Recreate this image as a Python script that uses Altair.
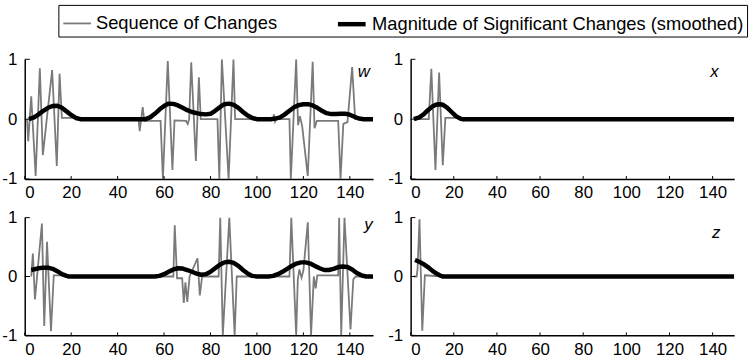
import altair as alt
import pandas as pd

SEQ = "Sequence of Changes"
MAG = "Magnitude of Significant Changes (smoothed)"

x_ticks = [0, 20, 40, 60, 80, 100, 120, 140]
y_ticks = [-1, 0, 1]

# ---- w ----
w_seq_t = [1, 1.5, 2.8, 4.7, 6.5, 7.8, 11.8, 13.8, 15.0, 16, 23, 24,
           49, 49.5, 50.8, 51.5, 58.5, 59.5, 61.6, 63.6, 64.5, 69.5, 70.2, 70.8,
           71.7, 73.7, 75.0, 75.8, 83, 83.8, 84.9, 87.8, 89.9, 90.6,
           107, 107.3, 107.8, 108.3, 114, 114.6, 116.9, 117.7, 118.5, 119.5,
           121.9, 124.0, 124.8, 125.8, 135, 136.0, 137.2, 139, 141.0, 142.3, 150]
w_seq_v = [0, -0.37, 0.38, -0.95, 0.85, -0.6, 0.82, -0.78, 0.76, 0.02, 0.02, 0,
           0, -0.2, 0.2, -0.03, -0.03, -1.0, 0.97, -0.85, -0.02, -0.03, -0.08, 0.0,
           0.95, -0.7, 0.7, 0.0, 0, -1.0, 1.0, -1.0, 1.0, 0.0,
           0, 0.08, -0.04, 0, 0, -1.0, 1.0, -0.1, 0.05, -0.12,
           -0.95, 0.96, -0.15, -0.03, -0.03, -1.0, -0.08, -0.05, 0.87, 0.0, 0]
w_mag_t = [1.8, 4, 6, 8, 10, 12, 14, 16, 18, 20, 22, 24, 52, 54, 56, 58, 60, 62,
           64, 66, 68, 70, 72, 74, 76, 78, 80, 82, 84, 86, 88, 90, 92, 94, 96, 98,
           100, 106, 108, 110, 112, 114, 116, 118, 120, 122, 124, 126, 128, 130,
           132, 134, 136, 138, 140, 142, 144, 146, 150]
w_mag_v = [0, 0.03, 0.08, 0.14, 0.19, 0.22, 0.225, 0.19, 0.13, 0.07, 0.02, 0,
           0, 0.03, 0.09, 0.16, 0.22, 0.26, 0.255, 0.23, 0.19, 0.15, 0.12, 0.1,
           0.085, 0.08, 0.09, 0.14, 0.2, 0.25, 0.26, 0.24, 0.19, 0.12, 0.06, 0.02,
           0, 0, 0.01, 0.03, 0.08, 0.14, 0.2, 0.235, 0.25, 0.25, 0.23, 0.19, 0.14,
           0.1, 0.085, 0.085, 0.09, 0.09, 0.075, 0.04, 0.01, 0, 0]

# ---- x ----
x_seq_t = [1.5, 8.4, 9.6, 11.5, 13.2, 14.9, 16.1, 23, 24, 150]
x_seq_v = [0, 0, 0.84, -0.85, 0.78, -0.77, 0.02, 0.02, 0, 0]
x_mag_t = [1.5, 4, 6, 8, 10, 12, 13.5, 15, 17, 19, 21, 23, 24, 150]
x_mag_v = [0, 0.03, 0.08, 0.15, 0.21, 0.245, 0.25, 0.24, 0.19, 0.12, 0.05,
           0.01, 0, 0]

# ---- y ----
y_seq_t = [2.8, 3.5, 4.4, 7.4, 8.4, 9.6, 11.3, 12.5, 18, 19,
           64, 64.6, 65.6, 67.8, 68.5, 69.2, 70.0, 71, 74.4, 75.4, 76.4,
           83.5, 84.2, 85.3, 88.1, 90.4, 91.3,
           114, 114.8, 116.9, 117.6, 118.3, 119.2, 120.0, 121.9, 123.3, 124.5,
           125.3, 126, 135, 135.4, 136.3, 137.7, 140.3, 141.5, 142.5, 150]
y_seq_v = [0, 0.39, -0.39, 0.9, -0.84, 0.59, -0.93, 0.02, 0.02, 0,
           0, 0.87, -0.03, -0.03, -0.45, -0.1, -0.43, 0, 0.31, -0.32, 0,
           0, 1.0, -1.0, 1.0, -1.0, 0,
           0, 1.0, -1.0, -0.05, 0.12, -0.02, 0.1, 0.92, -1.0, 0.0,
           -0.2, 0.02, 0.02, 1.0, -1.0, 1.0, -0.9, -0.05, 0, 0]
y_mag_t = [2.8, 4, 6, 8, 10, 12, 14, 16, 18, 19, 56, 58, 60, 62, 64, 66, 68,
           70, 72, 74, 76, 78, 80, 82, 84, 86, 88, 90, 92, 94, 96, 98, 100, 105,
           107, 109, 111, 113, 115, 117, 119, 121, 123, 125, 127, 129, 131, 133,
           135, 137, 139, 141, 143, 145, 147, 150]
y_mag_v = [0.11, 0.12, 0.14, 0.15, 0.15, 0.13, 0.09, 0.04, 0.01, 0, 0, 0.01,
           0.04, 0.08, 0.12, 0.14, 0.135, 0.11, 0.08, 0.05, 0.03, 0.04, 0.08,
           0.14, 0.2, 0.24, 0.25, 0.23, 0.18, 0.11, 0.05, 0.01, 0, 0, 0.01,
           0.04, 0.08, 0.13, 0.18, 0.22, 0.24, 0.24, 0.22, 0.18, 0.14, 0.11,
           0.11, 0.13, 0.16, 0.17, 0.16, 0.12, 0.06, 0.02, 0, 0]

# ---- z ----
z_seq_t = [1.5, 2.8, 3.2, 4.1, 5.4, 6.6, 15, 150]
z_seq_v = [0, 0, 0.13, 0.97, -0.92, 0.02, 0, 0]
z_mag_t = [2, 4, 6, 8, 10, 12, 14, 15, 150]
z_mag_v = [0.28, 0.25, 0.21, 0.16, 0.1, 0.05, 0.01, 0, 0]

FONT = "Liberation Sans"

color_scale = alt.Scale(domain=[SEQ, MAG], range=["#7a7a7a", "#000000"])
width_scale = alt.Scale(domain=[SEQ, MAG], range=[1.8, 4.5])
legend = alt.Legend(
    title=None, orient="none", legendX=34, legendY=-55, direction="horizontal",
    symbolType="stroke", symbolSize=784, labelFontSize=18.5, labelFont=FONT,
    labelColor="black", strokeColor="black", padding=3, symbolOffset=1,
    columnPadding=51, labelOffset=4, labelLimit=600,
)


def frame(t, v, series):
    return pd.DataFrame({"t": t, "v": v, "series": series})


def panel(name, seq_t, seq_v, mag_t, mag_v, width, height, name_t, name_v):
    xs = alt.Scale(domain=[0, 150], nice=False, zero=False)
    ys = alt.Scale(domain=[-1, 1], nice=False)
    xax = alt.Axis(values=x_ticks, ticks=False, title=None, grid=False,
                   labelExpr="'' + datum.value", labelPadding=6)
    yax = alt.Axis(values=y_ticks, ticks=False, title=None, grid=False,
                   labelExpr="'' + datum.value", labelPadding=8)
    data = pd.concat([frame(seq_t, seq_v, SEQ), frame(mag_t, mag_v, MAG)])
    enc = dict(
        x=alt.X("t:Q", scale=xs, axis=xax),
        y=alt.Y("v:Q", scale=ys, axis=yax),
        color=alt.Color("series:N", scale=color_scale, legend=legend),
        strokeWidth=alt.StrokeWidth("series:N", scale=width_scale, legend=legend),
    )
    base = alt.Chart(data)
    seq = base.transform_filter(alt.datum.series == SEQ).mark_line(clip=True).encode(**enc)
    mag = base.transform_filter(alt.datum.series == MAG).mark_line(
        clip=True, strokeJoin="round").encode(**enc)
    # inward tick marks along both axes
    xt = alt.Chart(pd.DataFrame({"t": x_ticks})).mark_rule(color="black", strokeWidth=1).encode(
        x="t:Q", y=alt.YDatum(-1), y2=alt.Y2Datum(-0.95))
    yt = alt.Chart(pd.DataFrame({"v": y_ticks})).mark_rule(color="black", strokeWidth=1).encode(
        y="v:Q", x=alt.XDatum(0), x2=alt.X2Datum(2.2))
    lab = alt.Chart(alt.Data(values=[{}])).mark_text(
        text=name, fontStyle="italic", fontSize=17, font=FONT, color="black").encode(
        x=alt.XDatum(name_t), y=alt.YDatum(name_v))
    return alt.layer(seq, mag, xt, yt, lab).properties(width=width, height=height)


LW, RW = 352, 327
TH, BH = 121, 119

w = panel("w", w_seq_t, w_seq_v, w_mag_t, w_mag_v, LW, TH, 146, 0.79)
x = panel("x", x_seq_t, x_seq_v, x_mag_t, x_mag_v, RW, TH, 140.8, 0.79)
y = panel("y", y_seq_t, y_seq_v, y_mag_t, y_mag_v, LW, BH, 148, 0.87)
z = panel("z", z_seq_t, z_seq_v, z_mag_t, z_mag_v, RW, BH, 141.7, 0.74)

chart = alt.vconcat(
    alt.hconcat(w, x, spacing=14),
    alt.hconcat(y, z, spacing=14),
    spacing=8,
).properties(
    padding={"left": 1, "top": 2, "right": 5, "bottom": 5},
    background="white",
).configure_view(stroke=None).configure_axis(
    domainColor="black", domainWidth=1.5, labelColor="black",
    labelFont=FONT, labelFontSize=17,
)

chart.save("out.html", embed_options={"renderer": "svg", "actions": False})
